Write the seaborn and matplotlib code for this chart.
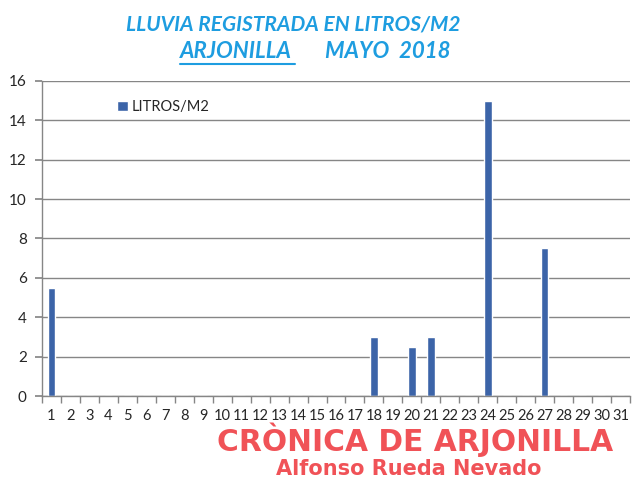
import matplotlib
matplotlib.use("Agg")
import matplotlib.pyplot as plt
import seaborn as sns
import pandas as pd
from matplotlib.lines import Line2D

days = [str(d) for d in range(1, 32)]
rain = [5.5, 0, 0, 0, 0, 0, 0, 0, 0, 0, 0, 0, 0, 0, 0, 0, 0, 3.0, 0, 2.5,
        3.0, 0, 0, 15.0, 0, 0, 7.5, 0, 0, 0, 0]
series_name = "LITROS/M2"
title1 = "LLUVIA REGISTRADA EN LITROS/M2"
title2a = "ARJONILLA"
title2b = "MAYO  2018"
mark1 = "CRÒNICA DE ARJONILLA"
mark2 = "Alfonso Rueda Nevado"
yticks = [0, 2, 4, 6, 8, 10, 12, 14, 16]

sns.set_theme(style="white")
plt.rcParams['font.family'] = ['Lato', 'DejaVu Sans']

df = pd.DataFrame({"day": days, "rain": rain, "serie": series_name})

fig = plt.figure(figsize=(6.39, 4.9), dpi=100)
ax = fig.add_axes([42/639, 1 - 396/490, (630-42)/639, (396-81)/490])

bar_color = "#3C64A8"
sns.barplot(data=df, x="day", y="rain", hue="serie", palette=[bar_color],
            order=days, width=0.4, ax=ax, saturation=1, legend=True)

ax.set_ylim(0, 16)
ax.set_xlim(-0.5, 30.5)
ax.set_yticks(yticks)
ax.set_xlabel("")
ax.set_ylabel("")
ax.yaxis.grid(True, color="#868686", lw=1)
ax.set_axisbelow(True)
for s in ["top", "right"]:
    ax.spines[s].set_visible(False)
for s in ["left", "bottom"]:
    ax.spines[s].set_color("#868686")
    ax.spines[s].set_linewidth(1)

ax.tick_params(axis="y", which="major", length=5, color="#868686", labelsize=11, pad=6, direction="out", left=True)
ax.tick_params(axis="x", which="major", length=0, labelsize=10.5, pad=9)
ax.set_xticks([i - 0.5 for i in range(0, 32)], minor=True)
ax.tick_params(axis="x", which="minor", length=5, color="#868686", direction="out", bottom=True)

leg = ax.legend(loc="upper left", bbox_to_anchor=(0.106, 0.98), frameon=False,
                fontsize=10.5, handlelength=0.7, handleheight=0.7, handletextpad=0.3)

tcol = "#1E9DE0"
fig.text(293/639, 1 - 25/490, title1, ha="center", va="center", color=tcol,
         fontsize=15, fontweight="bold", fontstyle="italic")
t2a = fig.text(236/639, 1 - 52/490, title2a, ha="center", va="center", color=tcol,
               fontsize=16, fontweight="bold", fontstyle="italic")
fig.text(388/639, 1 - 52/490, title2b, ha="center", va="center", color=tcol,
         fontsize=16, fontweight="bold", fontstyle="italic")

fig.text(415/639, 1 - 451/490, mark1, ha="center", va="baseline", color="#F05257",
         fontsize=21.4, fontweight="bold", family="DejaVu Sans")
fig.text(409/639, 1 - 475/490, mark2, ha="center", va="baseline", color="#F05257",
         fontsize=15, fontweight="bold", family="DejaVu Sans")

fig.canvas.draw()
bb = t2a.get_window_extent().transformed(fig.transFigure.inverted())
fig.add_artist(Line2D([bb.x0, bb.x1 + 0.005], [bb.y0 - 0.004, bb.y0 - 0.004],
                      transform=fig.transFigure, color=tcol, lw=1.5))

fig.savefig("out.png", dpi=100)
